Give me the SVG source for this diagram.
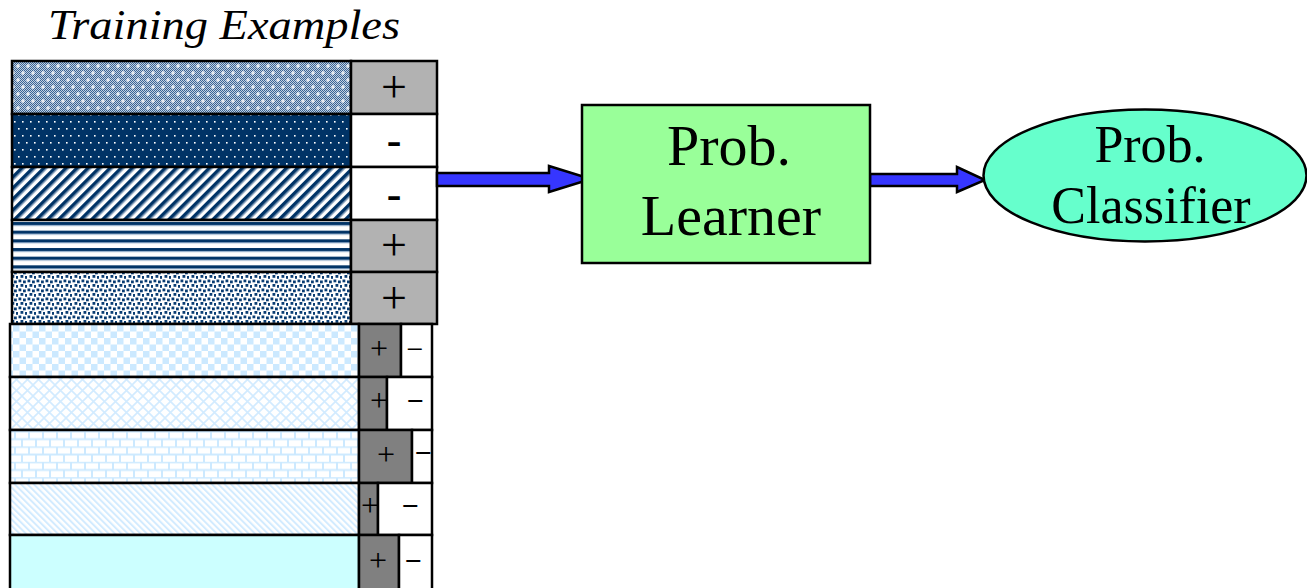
<svg xmlns="http://www.w3.org/2000/svg" width="1307" height="588" viewBox="0 0 1307 588">
<style>
text{font-family:"Liberation Serif","Times New Roman",Tinos,"DejaVu Serif",serif;fill:#000}
.pl{font-size:46px;text-anchor:middle}
.mi{font-size:44px;font-weight:bold;text-anchor:middle}
.spl{font-size:32px;text-anchor:middle}
.smi{font-size:30px;text-anchor:middle}
.cell{stroke:#000;stroke-width:2.5}
.arrow{fill:#3636ff;stroke:#000;stroke-width:2.5;stroke-linejoin:miter}
</style>
<defs>
<pattern id="chk" width="2" height="2" patternUnits="userSpaceOnUse">
<rect width="2" height="2" fill="#c2d0e2"/>
<rect width="1" height="1" fill="#3a6594"/>
<rect x="1" y="1" width="1" height="1" fill="#3a6594"/>
</pattern>
<pattern id="p1" width="10" height="14" patternUnits="userSpaceOnUse">
<rect width="10" height="14" fill="url(#chk)"/>
<path d="M1 3h4M3 1v4M6 10h4M8 8v4" stroke="#fff" stroke-width="1.2"/>
</pattern>
<pattern id="p2" width="16" height="14" patternUnits="userSpaceOnUse">
<rect width="16" height="14" fill="#003366"/>
<g fill="#fff"><rect x="2" y="2" width="1.6" height="1.6"/><rect x="10" y="2" width="1.6" height="1.6"/><rect x="6" y="9" width="1.6" height="1.6"/><rect x="14" y="9" width="1.6" height="1.6"/></g>
</pattern>
<pattern id="p3" width="7.8" height="10" patternUnits="userSpaceOnUse" patternTransform="rotate(45)">
<rect width="7.8" height="10" fill="#fff"/>
<rect width="3.6" height="10" fill="#003366"/>
<rect x="3.6" width="0.9" height="10" fill="#6f8fb0"/>
</pattern>
<pattern id="p4" width="10" height="8.67" patternUnits="userSpaceOnUse" y="221">
<rect width="10" height="8.67" fill="#fff"/>
<rect y="1" width="10" height="3" fill="#003366"/>
<rect y="4" width="10" height="1" fill="#7f9fc0"/>
</pattern>
<pattern id="p5" width="9" height="9" patternUnits="userSpaceOnUse">
<rect width="9" height="9" fill="#fff"/>
<g fill="#0a3d73"><rect x="0.5" y="0.5" width="2.8" height="2.8"/><rect x="5" y="1.5" width="2.8" height="2.8"/><rect x="2.5" y="5" width="2.8" height="2.8"/><rect x="7" y="6" width="2.8" height="2.8"/></g>
</pattern>
<pattern id="b1" width="13" height="13" patternUnits="userSpaceOnUse">
<rect width="13" height="13" fill="#fff"/>
<rect width="6.5" height="6.5" fill="#cce9ff"/>
<rect x="6.5" y="6.5" width="6.5" height="6.5" fill="#cce9ff"/>
</pattern>
<pattern id="b2" width="11" height="11" patternUnits="userSpaceOnUse">
<rect width="11" height="11" fill="#fff"/>
<path d="M0 0L11 11M11 0L0 11" stroke="#d2ebff" stroke-width="1.6"/>
</pattern>
<pattern id="b3" width="14" height="15.4" patternUnits="userSpaceOnUse" y="431">
<rect width="14" height="15.4" fill="#fff"/>
<path d="M0 0.5H14M0 8.2H14M1 0.5V8.2M8 8.2V15.4" stroke="#cce9ff" stroke-width="2"/>
</pattern>
<pattern id="b4" width="4.5" height="10" patternUnits="userSpaceOnUse" patternTransform="rotate(-45)">
<rect width="4.5" height="10" fill="#fff"/>
<rect width="2" height="10" fill="#d2ebff"/>
</pattern>
</defs>

<text id="title" x="48" y="39" font-size="42" font-style="italic" textLength="352" lengthAdjust="spacingAndGlyphs">Training Examples</text>

<g id="examples-top">
<g id="ex1"><rect class="cell" x="12" y="61" width="339" height="53" fill="url(#p1)"/><rect class="cell" x="351" y="61" width="86" height="53" fill="#b2b2b2"/><text class="pl" x="394" y="102">+</text></g>
<g id="ex2"><rect class="cell" x="12" y="114" width="339" height="53" fill="url(#p2)"/><rect class="cell" x="351" y="114" width="86" height="53" fill="#fff"/><text class="mi" x="394" y="155">-</text></g>
<g id="ex3"><rect class="cell" x="12" y="167" width="339" height="53" fill="url(#p3)"/><rect class="cell" x="351" y="167" width="86" height="53" fill="#fff"/><text class="mi" x="394" y="209">-</text></g>
<g id="ex4"><rect class="cell" x="12" y="220" width="339" height="52" fill="url(#p4)"/><rect class="cell" x="351" y="220" width="86" height="52" fill="#b2b2b2"/><text class="pl" x="394" y="260">+</text></g>
<g id="ex5"><rect class="cell" x="12" y="272" width="339" height="52" fill="url(#p5)"/><rect class="cell" x="351" y="272" width="86" height="52" fill="#b2b2b2"/><text class="pl" x="394" y="313">+</text></g>
</g>

<g id="examples-bottom">
<g id="ex6"><rect class="cell" x="10" y="324" width="349" height="53" fill="url(#b1)"/><rect class="cell" x="359" y="324" width="42" height="53" fill="#808080"/><rect class="cell" x="401" y="324" width="31" height="53" fill="#fff"/><text class="spl" x="379" y="359">+</text><text class="smi" x="415" y="358.5">−</text></g>
<g id="ex7"><rect class="cell" x="10" y="377" width="349" height="53" fill="url(#b2)"/><rect x="359" y="377" width="28" height="53" fill="#808080"/><text class="spl" x="379" y="411">+</text><rect class="cell" x="359" y="377" width="28" height="53" fill="none"/><rect class="cell" x="387" y="377" width="45" height="53" fill="#fff"/><text class="smi" x="415" y="410.5" font-weight="bold">−</text></g>
<g id="ex8"><rect class="cell" x="10" y="430" width="349" height="53" fill="url(#b3)"/><rect class="cell" x="359" y="430" width="53" height="53" fill="#808080"/><rect class="cell" x="412" y="430" width="20" height="53" fill="#fff"/><text class="spl" x="386" y="465">+</text><text class="smi" x="423" y="462.5" font-weight="bold">−</text></g>
<g id="ex9"><rect class="cell" x="10" y="483" width="349" height="52" fill="url(#b4)"/><rect x="359" y="483" width="19" height="52" fill="#808080"/><text class="spl" x="370" y="516">+</text><rect class="cell" x="359" y="483" width="19" height="52" fill="none"/><rect class="cell" x="378" y="483" width="54" height="52" fill="#fff"/><text class="smi" x="410" y="515.5" font-weight="bold">−</text></g>
<g id="ex10"><rect class="cell" x="10" y="535" width="349" height="56" fill="#ccffff"/><rect class="cell" x="359" y="535" width="40" height="56" fill="#808080"/><rect class="cell" x="399" y="535" width="33" height="56" fill="#fff"/><text class="spl" x="378" y="571">+</text><text class="smi" x="413" y="570.5" font-weight="bold">−</text></g>
</g>

<g id="connectors">
<polygon class="arrow" points="437,173 549,173 549,166 591,179 549,192 549,186 437,186"/>
<polygon class="arrow" points="870,174 957,174 957,167 985,180 957,192 957,186 870,186"/>
</g>

<g id="learner">
<rect x="582" y="105" width="288" height="158" fill="#99ff99" stroke="#000" stroke-width="2.5"/>
<text x="729" y="165" font-size="58" text-anchor="middle">Prob.</text>
<text x="731" y="235" font-size="58" text-anchor="middle">Learner</text>
</g>

<g id="classifier">
<ellipse cx="1145" cy="175.5" rx="161.5" ry="66" fill="#66ffcc" stroke="#000" stroke-width="2.5"/>
<text x="1150" y="162" font-size="52" text-anchor="middle">Prob.</text>
<text x="1151" y="223" font-size="52" text-anchor="middle">Classifier</text>
</g>
</svg>
